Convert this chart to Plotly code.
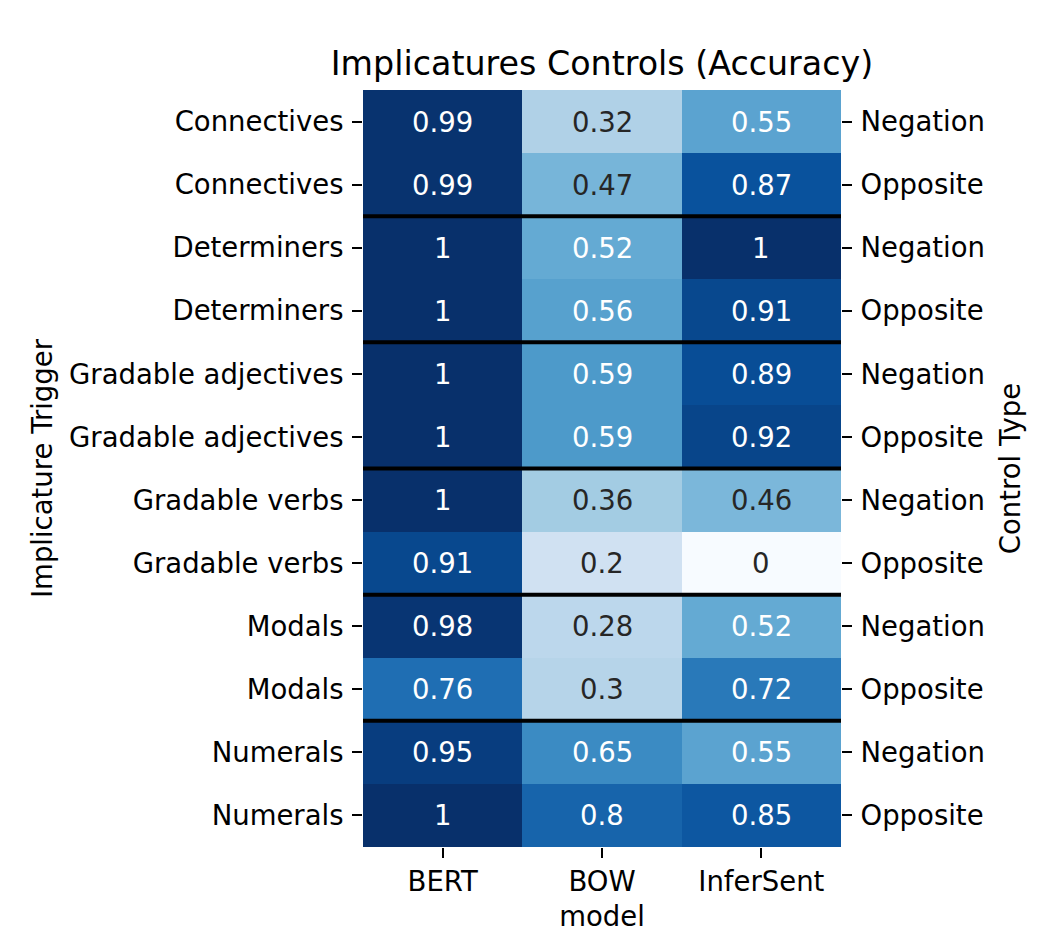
import plotly.graph_objects as go

# accuracy per (trigger, control) row and model column
triggers = ["Connectives", "Connectives", "Determiners", "Determiners",
            "Gradable adjectives", "Gradable adjectives", "Gradable verbs", "Gradable verbs",
            "Modals", "Modals", "Numerals", "Numerals"]
controls = ["Negation", "Opposite"] * 6
models = ["BERT", "BOW", "InferSent"]

bert = [0.99, 0.99, 1, 1, 1, 1, 1, 0.91, 0.98, 0.76, 0.95, 1]
bow = [0.32, 0.47, 0.52, 0.56, 0.59, 0.59, 0.36, 0.2, 0.28, 0.3, 0.65, 0.8]
infersent = [0.55, 0.87, 1, 0.91, 0.89, 0.92, 0.46, 0, 0.52, 0.72, 0.55, 0.85]

# matplotlib "Blues"
blues = ["rgb(247,251,255)", "rgb(222,235,247)", "rgb(198,219,239)", "rgb(158,202,225)",
         "rgb(107,174,214)", "rgb(66,146,198)", "rgb(33,113,181)", "rgb(8,81,156)",
         "rgb(8,48,107)"]
colorscale = [[i / (len(blues) - 1), c] for i, c in enumerate(blues)]

rows = list(range(len(triggers)))
z = [[bert[i], bow[i], infersent[i]] for i in rows]

FONT = "DejaVu Sans"

fig = go.Figure()
fig.add_trace(go.Heatmap(
    z=z, x=models, y=rows,
    colorscale=colorscale, zmin=0, zmax=1,
    showscale=False, hoverinfo="skip",
))
# invisible trace so the right-hand axis gets drawn
fig.add_trace(go.Scatter(
    x=[models[0]] * len(rows), y=rows, yaxis="y2",
    mode="markers", marker=dict(opacity=0), showlegend=False, hoverinfo="skip",
))

# cell annotations
for i in rows:
    for j, m in enumerate(models):
        v = z[i][j]
        fig.add_annotation(
            x=m, y=i, text=format(v, ".2g"), showarrow=False,
            font=dict(family=FONT, size=27.5, color="white" if v > 0.5 else "#262626"),
        )

# black separators between trigger groups
for i in range(2, len(rows), 2):
    fig.add_shape(type="line", xref="x domain", x0=0, x1=1, yref="y", y0=i - 0.5, y1=i - 0.5,
                  line=dict(color="black", width=4))

yrange = [len(rows) - 0.5, -0.5]
tick_common = dict(ticks="outside", ticklen=10, tickwidth=2, tickcolor="black",
                   showgrid=False, zeroline=False, showline=False,
                   tickfont=dict(family=FONT, size=27.5, color="black"))

fig.update_layout(
    width=1042, height=952,
    margin=dict(l=355, r=209, t=82, b=113),
    paper_bgcolor="white", plot_bgcolor="white",
    font=dict(family=FONT, color="black"),
    title=dict(text="Implicatures Controls (Accuracy)", x=0.5, xref="paper", xanchor="center",
               y=1 - 55 / 952, yref="container", yanchor="middle",
               font=dict(family=FONT, size=33.3, color="black")),
    xaxis=dict(title=dict(text="model", standoff=10, font=dict(family=FONT, size=27.5)),
               ticklabelstandoff=0, **tick_common),
    yaxis=dict(range=yrange, tickvals=rows, ticktext=triggers, ticklabelstandoff=3,
               title=dict(text="Implicature Trigger", standoff=8, font=dict(family=FONT, size=27.5)),
               **tick_common),
    yaxis2=dict(range=yrange, overlaying="y", side="right", tickvals=rows, ticktext=controls,
                ticklabelstandoff=3,
                title=dict(text="Control Type", standoff=16, font=dict(family=FONT, size=27.5)),
                **tick_common),
    showlegend=False,
)

fig.write_html("out.html")
